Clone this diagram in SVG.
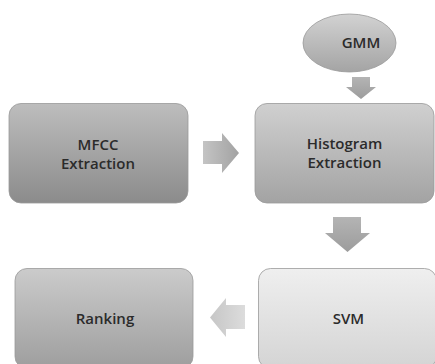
<svg xmlns="http://www.w3.org/2000/svg" width="435" height="364" viewBox="0 0 435 364">
<defs>
<linearGradient id="gMfcc" x1="0" y1="0" x2="0" y2="1"><stop offset="0" stop-color="#bdbdbd"/><stop offset="1" stop-color="#8b8b8b"/></linearGradient>
<linearGradient id="gHist" x1="0" y1="0" x2="0" y2="1"><stop offset="0" stop-color="#d0d0d0"/><stop offset="1" stop-color="#a3a3a3"/></linearGradient>
<linearGradient id="gGmm" x1="0" y1="0" x2="0" y2="1"><stop offset="0" stop-color="#d2d2d2"/><stop offset="1" stop-color="#a4a4a4"/></linearGradient>
<linearGradient id="gSvm" x1="0" y1="0" x2="0" y2="1"><stop offset="0" stop-color="#efefef"/><stop offset="1" stop-color="#d4d4d4"/></linearGradient>
<linearGradient id="gRank" x1="0" y1="0" x2="0" y2="1"><stop offset="0" stop-color="#cbcbcb"/><stop offset="1" stop-color="#9e9e9e"/></linearGradient>
<linearGradient id="gArrH" x1="0" y1="0" x2="1" y2="0"><stop offset="0" stop-color="#c4c4c4"/><stop offset="1" stop-color="#a2a2a2"/></linearGradient>
<linearGradient id="gArrV" x1="0" y1="0" x2="0" y2="1"><stop offset="0" stop-color="#b4b4b4"/><stop offset="1" stop-color="#9c9c9c"/></linearGradient>
<linearGradient id="gArrL" x1="1" y1="0" x2="0" y2="0"><stop offset="0" stop-color="#dcdcdc"/><stop offset="1" stop-color="#c6c6c6"/></linearGradient>
</defs>
<style>
.box{stroke:#999;stroke-width:0.8}
.lbl{font-family:"Open Sans","DejaVu Sans",sans-serif;font-weight:600;font-size:15px;fill:#2b2b2b;text-anchor:middle}
.arr{stroke:none}
</style>
<g id="connectors">
<path class="arr" fill="url(#gArrH)" d="M203,141 H222 V133 L239,153 L222,173 V164 H203 Z"/>
<path class="arr" fill="url(#gArrV)" d="M352,77 H370 V87 H376 L361,99 L346,87 H352 Z"/>
<path class="arr" fill="url(#gArrV)" d="M333,217 H361 V233 H370 L347.5,252 L325,233 H333 Z"/>
<path class="arr" fill="url(#gArrL)" d="M245,305 H226 V298 L210,317.5 L226,337 V329 H245 Z"/>
</g>
<g id="mfcc">
<rect class="box" x="9" y="103.5" width="179" height="99.5" rx="12" fill="url(#gMfcc)"/>
<text class="lbl" x="98" y="149.5">MFCC</text>
<text class="lbl" x="98" y="168.5">Extraction</text>
</g>
<g id="gmm">
<ellipse class="box" cx="349.5" cy="43" rx="46.5" ry="29" fill="url(#gGmm)"/>
<text class="lbl" x="361" y="47.5">GMM</text>
</g>
<g id="histogram">
<rect class="box" x="255" y="103.5" width="179" height="99.5" rx="12" fill="url(#gHist)"/>
<text class="lbl" x="344.5" y="149">Histogram</text>
<text class="lbl" x="344.5" y="168">Extraction</text>
</g>
<g id="svm">
<rect class="box" x="258.5" y="268.5" width="178" height="100" rx="12" fill="url(#gSvm)"/>
<text class="lbl" x="348.5" y="323.5">SVM</text>
</g>
<g id="ranking">
<rect class="box" x="15" y="268.5" width="178" height="100" rx="12" fill="url(#gRank)"/>
<text class="lbl" x="105" y="323.5">Ranking</text>
</g>
</svg>
